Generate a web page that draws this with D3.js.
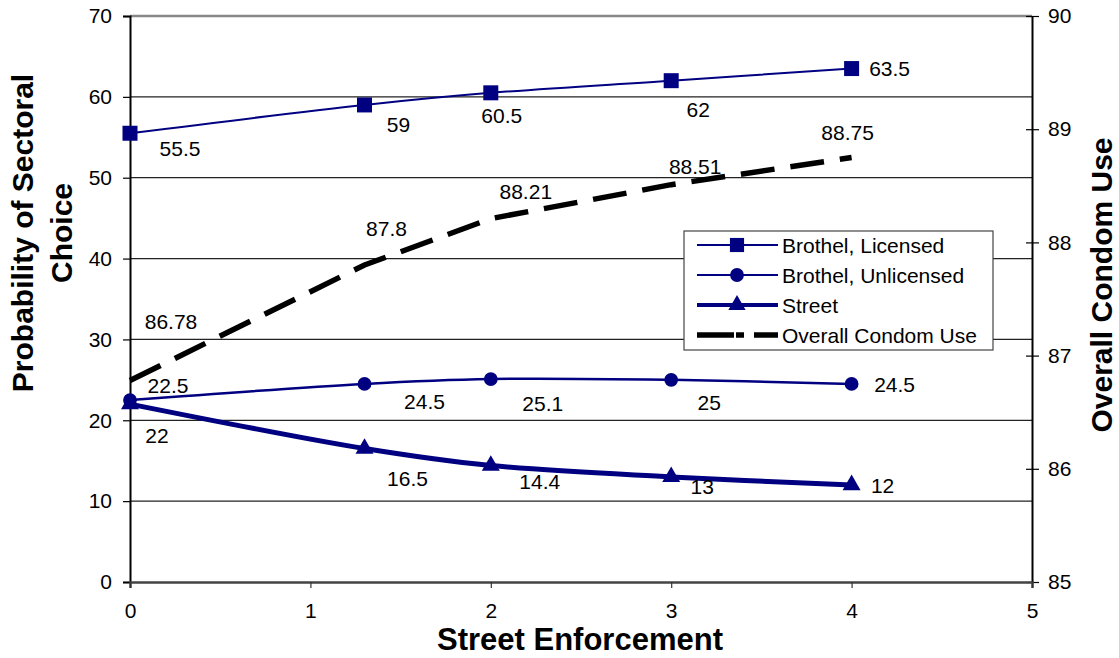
<!DOCTYPE html>
<html><head><meta charset="utf-8">
<script src="https://cdn.jsdelivr.net/npm/d3@7"></script>
<style>body{margin:0;background:#fff;} text{font-family:"Liberation Sans",Arial,sans-serif;}</style>
</head><body>
<svg id="c" width="1119" height="658"></svg>
<script>
const xVals = [0, 1.3, 2, 3, 4];
const licensed = [55.5, 59, 60.5, 62, 63.5];
const unlicensed = [22.5, 24.5, 25.1, 25, 24.5];
const street = [22, 16.5, 14.4, 13, 12];
const condom = [86.78, 87.8, 88.21, 88.51, 88.75];
const leftTicks = [0, 10, 20, 30, 40, 50, 60, 70];
const rightTicks = [85, 86, 87, 88, 89, 90];
const xTicks = [0, 1, 2, 3, 4, 5];
const seriesNames = ["Brothel, Licensed", "Brothel, Unlicensed", "Street", "Overall Condom Use"];
// label offsets (pixels) relative to each point
const licOff = [[50,15],[34,20],[11,23],[27,29],[38,0]];
const unlOff = [[38,-15],[60,18],[52,24],[38,23],[43,1]];
const strOff = [[27,31],[43,30],[49,16],[31,10],[31,1]];
const conOff = [[41,-59],[22,-37],[35,-27],[24,-18],[-4,-25]];

const svg = d3.select("#c");
const L = 130, R = 1032, T = 16, B = 582;
const x = d3.scaleLinear().domain([0,5]).range([L,R]);
const y = d3.scaleLinear().domain([0,70]).range([B,T]);
const y2 = d3.scaleLinear().domain([85,90]).range([B,T]);
const navy = "#000080";
const FS = 21;

// gridlines
svg.append("g").selectAll("line").data(leftTicks.filter(d=>d>0)).join("line")
  .attr("x1",L).attr("x2",R).attr("y1",d=>y(d)).attr("y2",d=>y(d))
  .attr("stroke",d=>d===70?"#888":"#222").attr("stroke-width",d=>d===70?2.5:1.2);

// left axis
const ga = svg.append("g").attr("transform",`translate(${L},0)`)
  .call(d3.axisLeft(y).tickValues(leftTicks).tickSize(7).tickPadding(11));
ga.select(".domain").attr("stroke","#000").attr("stroke-width",2);
ga.selectAll(".tick line").attr("stroke","#000").attr("stroke-width",1.2);
ga.selectAll("text").attr("font-size",FS).attr("fill","#000");
// right axis
const gr = svg.append("g").attr("transform",`translate(${R},0)`)
  .call(d3.axisRight(y2).tickValues(rightTicks).tickFormat(d3.format("d")).tickSize(0).tickPadding(16));
gr.select(".domain").attr("stroke","#000").attr("stroke-width",2);
gr.selectAll("text").attr("font-size",FS).attr("fill","#000");
gr.selectAll(".tick").append("line").attr("x1",-6).attr("x2",7).attr("stroke","#000").attr("stroke-width",1.2);
// bottom axis
const gb = svg.append("g").attr("transform",`translate(0,${B})`)
  .call(d3.axisBottom(x).tickValues(xTicks).tickFormat(d3.format("d")).tickSize(6).tickPadding(15));
gb.select(".domain").attr("stroke","#444").attr("stroke-width",2.5);
gb.selectAll(".tick line").attr("stroke","#333").attr("stroke-width",1.2);
gb.selectAll("text").attr("font-size",FS).attr("fill","#000");

// titles
svg.append("text").attr("transform","translate(0,233) rotate(-90)").attr("text-anchor","middle")
  .attr("font-size",30).attr("font-weight","bold")
  .selectAll("tspan").data(["Probability of Sectoral","Choice"]).join("tspan")
  .attr("x",0).attr("y",(d,i)=>i===0?33:72).text(d=>d);
svg.append("text").attr("transform","translate(1112,285) rotate(-90)").attr("text-anchor","middle")
  .attr("font-size",30).attr("font-weight","bold").text("Overall Condom Use");
svg.append("text").attr("x",580).attr("y",650).attr("text-anchor","middle")
  .attr("font-size",31).attr("font-weight","bold").text("Street Enforcement");

function drawSeries(vals, sc, width, marker, msize, offs, curve, dash, color){
  const ln = d3.line().x((d,i)=>x(xVals[i])).y(d=>sc(d)).curve(curve);
  svg.append("path").datum(vals).attr("d",ln).attr("fill","none")
    .attr("stroke",color).attr("stroke-width",width).attr("stroke-dasharray",dash||null);
  if(marker){
    svg.append("g").selectAll("path").data(vals).join("path")
      .attr("transform",(d,i)=>`translate(${x(xVals[i])},${sc(d)})`)
      .attr("d",d3.symbol().type(marker).size(msize))
      .attr("fill",color);
  }
  svg.append("g").selectAll("text").data(vals).join("text")
    .attr("x",(d,i)=>x(xVals[i])+offs[i][0]).attr("y",(d,i)=>sc(d)+offs[i][1])
    .attr("text-anchor","middle").attr("dominant-baseline","central")
    .attr("font-size",FS).attr("fill","#000").text(d=>d);
}
const smooth = d3.curveCatmullRom.alpha(0.5);
drawSeries(condom, y2, 5.5, null, 0, conOff, d3.curveLinear, "34,16", "#000");
drawSeries(licensed, y, 2, d3.symbolSquare, 225, licOff, smooth, null, navy);
drawSeries(unlicensed, y, 2.5, d3.symbolCircle, 150, unlOff, smooth, null, navy);
drawSeries(street, y, 5, d3.symbolTriangle, 140, strOff, smooth, null, navy);

// legend
const lg = svg.append("g").attr("transform","translate(684,231)");
lg.append("rect").attr("width",309).attr("height",119).attr("fill","#fff").attr("stroke","#444").attr("stroke-width",1.2);
const rows = [
  {m:d3.symbolSquare,w:2,c:navy,dash:null,s:200},
  {m:d3.symbolCircle,w:2,c:navy,dash:null,s:150},
  {m:d3.symbolTriangle,w:4,c:navy,dash:null,s:130},
  {m:null,w:5.5,c:"#000",dash:"37,2,8,10,30",s:0}
];
rows.forEach((r,i)=>{
  const yy = 14 + i*30;
  lg.append("line").attr("x1",13).attr("x2",94).attr("y1",yy).attr("y2",yy)
    .attr("stroke",r.c).attr("stroke-width",r.w).attr("stroke-dasharray",r.dash);
  if(r.m) lg.append("path").attr("transform",`translate(53,${yy})`).attr("d",d3.symbol().type(r.m).size(r.s)).attr("fill",r.c);
  lg.append("text").attr("x",98).attr("y",yy).attr("dominant-baseline","central")
    .attr("font-size",FS).attr("fill","#000").text(seriesNames[i]);
});
</script>
</body></html>
